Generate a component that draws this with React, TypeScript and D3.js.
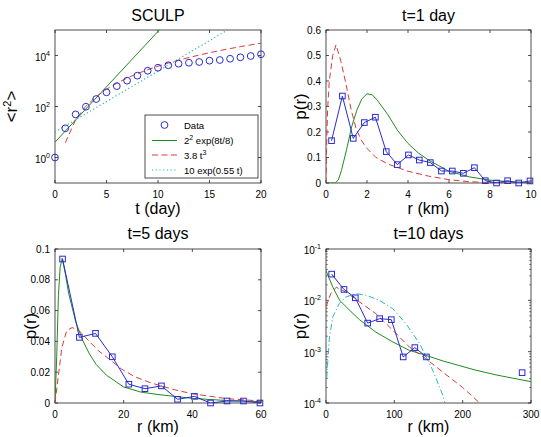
import React from "react";
import * as d3 from "d3";

const W = 541;
const H = 437;
const FONT = "'Liberation Sans', Arial, Helvetica, sans-serif";
const BLUE = "#2a2ad0";
const GREEN = "#1e8c1e";
const RED = "#dc3a3a";
const CYAN = "#2ab8b8";

// SCULP mean square separation
const sculpDays = [0, 1, 2, 3, 4, 5, 6, 7, 8, 9, 10, 11, 12, 13, 14, 15, 16, 17, 18, 19, 20];
const sculpR2 = [1, 14, 49, 98, 196, 360, 630, 1030, 1620, 2530, 3320, 4150, 4780, 5210, 5570, 6260, 6650, 7450, 8500, 9560, 11200];
const expFitDays = [0, 10.5];
const expFitR2 = [4, 145000];
const powFitDays = [1, 2, 3, 4, 5, 6, 7, 8, 9, 10, 11, 12, 13, 14, 15, 16, 17, 18, 19, 20];
const powFitR2 = [3.8, 30, 103, 243, 475, 821, 1300, 1950, 2770, 3800, 5060, 6570, 8350, 10400, 12800, 15600, 18700, 22200, 26100, 30400];
const exp2FitDays = [0, 17];
const exp2FitR2 = [10, 115000];

// t = 1 day
const day1R = [0.27, 0.8, 1.33, 1.87, 2.41, 2.94, 3.48, 4.02, 4.55, 5.09, 5.63, 6.16, 6.7, 7.24, 7.77, 8.32, 8.86, 9.4, 9.95];
const day1P = [0.166, 0.341, 0.175, 0.237, 0.258, 0.123, 0.072, 0.11, 0.09, 0.08, 0.047, 0.047, 0.038, 0.06, 0.009, 0, 0.009, 0, 0.008];
const day1GreenR = [0, 0.45, 0.6, 0.75, 1.0, 1.25, 1.5, 1.75, 2.0, 2.25, 2.5, 3.0, 3.5, 4.0, 4.5, 5.0, 5.5, 6.0, 7.0, 8.0, 9.0, 10.0];
const day1GreenP = [0, 0, 0.012, 0.048, 0.13, 0.22, 0.285, 0.33, 0.35, 0.346, 0.325, 0.27, 0.205, 0.155, 0.118, 0.09, 0.068, 0.046, 0.024, 0.011, 0.005, 0.002];
const day1RedR = [0, 0.04, 0.08, 0.16, 0.33, 0.49, 0.73, 0.98, 1.22, 1.46, 1.71, 1.95, 2.44, 3.0, 4.0, 5.0, 6.0, 7.0, 8.0, 10];
const day1RedP = [0, 0.18, 0.29, 0.4, 0.5, 0.542, 0.477, 0.386, 0.29, 0.215, 0.17, 0.14, 0.1, 0.075, 0.046, 0.027, 0.013, 0.005, 0.002, 0];

// t = 5 days
const day5R = [2.2, 7.1, 11.8, 16.7, 21.5, 26.2, 31.0, 35.7, 40.6, 45.3, 50.1, 54.9, 59.7];
const day5P = [0.0935, 0.0426, 0.0452, 0.03, 0.0122, 0.0093, 0.0111, 0.0024, 0.0043, 0, 0.0013, 0.0013, 0];
const day5GreenR = [0, 0.5, 1.0, 1.5, 2.1, 3, 4, 6, 8, 10, 12, 15, 20, 25, 30, 40, 50, 60];
const day5GreenP = [0, 0.03, 0.07, 0.088, 0.094, 0.084, 0.071, 0.053, 0.041, 0.032, 0.025, 0.018, 0.0104, 0.0071, 0.0055, 0.003, 0.0016, 0.0009];
const day5RedR = [0, 1, 2, 3.4, 5, 7, 10, 12.6, 15.5, 19.4, 23.3, 28, 35, 40, 50, 60];
const day5RedP = [0, 0.018, 0.036, 0.047, 0.049, 0.047, 0.04, 0.034, 0.029, 0.022, 0.017, 0.013, 0.0085, 0.006, 0.0028, 0.0013];

// t = 10 days
const day10R = [8.3, 26.3, 42.9, 61, 78.5, 95.6, 113, 130, 147, 287];
const day10P = [0.0324, 0.0163, 0.0112, 0.0036, 0.0044, 0.0042, 0.00079, 0.0012, 0.00079, 0.00039];
const day10GreenR = [0, 10, 20, 34, 49, 73, 98, 122, 146, 171, 218, 250, 300];
const day10GreenP = [0.038, 0.018, 0.01, 0.0065, 0.0042, 0.0024, 0.00154, 0.00106, 0.00085, 0.00066, 0.00044, 0.00035, 0.00026];
const day10RedR = [0, 7, 15, 29, 49, 73, 98, 122, 146, 171, 200, 225];
const day10RedP = [0.0075, 0.0135, 0.018, 0.0145, 0.0093, 0.0055, 0.0026, 0.00123, 0.00073, 0.0004, 0.0002, 0.0001];
const day10CyanR = [1, 5, 10, 19.5, 29, 44, 58.5, 78, 97.6, 117, 137, 156, 171, 174];
const day10CyanP = [0.0003, 0.0019, 0.0048, 0.0087, 0.0116, 0.0135, 0.0126, 0.01, 0.0069, 0.0035, 0.00144, 0.00044, 0.00014, 0.0001];

// tick labels
const sculpXTicks = [0, 5, 10, 15, 20];
const sculpYTicks = [1, 100, 10000];
const day1XTicks = [0, 2, 4, 6, 8, 10];
const day1YTicks = [0, 0.1, 0.2, 0.3, 0.4, 0.5, 0.6];
const day5XTicks = [0, 20, 40, 60];
const day5YTicks = [0, 0.02, 0.04, 0.06, 0.08, 0.1];
const day10XTicks = [0, 100, 200, 300];
const day10YTicks = [1e-4, 1e-3, 1e-2, 1e-1];

type Frame = { l: number; r: number; t: number; b: number };
type Scale = (v: number) => number;

const f1: Frame = { l: 55, r: 261, t: 30, b: 183 };
const f2: Frame = { l: 326, r: 531, t: 30, b: 183 };
const f3: Frame = { l: 55, r: 261, t: 249, b: 403 };
const f4: Frame = { l: 326, r: 531, t: 249, b: 403 };

const pow10 = (v: number) => (
  <>
    10<tspan dy={-5} fontSize={7}>{Math.round(Math.log10(v))}</tspan>
  </>
);

function Axes(props: {
  f: Frame; x: Scale; y: Scale; xTicks: number[]; yTicks: number[];
  yFmt: (v: number) => any; yMinor?: number[]; logY?: boolean; xLabelDy: number;
}) {
  const { f, x, y, xTicks, yTicks, yFmt, yMinor, logY, xLabelDy } = props;
  const tl = 3;
  return (
    <g>
      <rect x={f.l} y={f.t} width={f.r - f.l} height={f.b - f.t} fill="none" stroke="#222" strokeWidth={0.8} />
      {xTicks.map((v) => (
        <g key={"x" + v}>
          <line x1={x(v)} x2={x(v)} y1={f.b} y2={f.b - tl} stroke="#222" strokeWidth={0.8} />
          <line x1={x(v)} x2={x(v)} y1={f.t} y2={f.t + tl} stroke="#222" strokeWidth={0.8} />
          <text x={x(v)} y={f.b + xLabelDy} textAnchor="middle" fontSize={10}>{v}</text>
        </g>
      ))}
      {yTicks.map((v) => (
        <g key={"y" + v}>
          <line x1={f.l} x2={f.l + tl} y1={y(v)} y2={y(v)} stroke="#222" strokeWidth={0.8} />
          <line x1={f.r} x2={f.r - tl} y1={y(v)} y2={y(v)} stroke="#222" strokeWidth={0.8} />
          <text x={f.l - 5} y={y(v) + (logY ? 5 : 3.5)} textAnchor="end" fontSize={10}>{yFmt(v)}</text>
        </g>
      ))}
      {(yMinor || []).map((v) => (
        <g key={"m" + v}>
          <line x1={f.l} x2={f.l + 1.8} y1={y(v)} y2={y(v)} stroke="#222" strokeWidth={0.6} />
          <line x1={f.r} x2={f.r - 1.8} y1={y(v)} y2={y(v)} stroke="#222" strokeWidth={0.6} />
        </g>
      ))}
    </g>
  );
}

function path(xs: number[], ys: number[], x: Scale, y: Scale) {
  const pts: [number, number][] = xs.map((v, i) => [x(v), y(ys[i])]);
  return d3.line()(pts) || "";
}

export default function App() {
  const x1 = d3.scaleLinear().domain([0, 20]).range([f1.l, f1.r]);
  const y1 = d3.scaleLog().domain([0.1, 1e5]).range([f1.b, f1.t]);
  const x2 = d3.scaleLinear().domain([0, 10]).range([f2.l, f2.r]);
  const y2 = d3.scaleLinear().domain([0, 0.6]).range([f2.b, f2.t]);
  const x3 = d3.scaleLinear().domain([0, 60]).range([f3.l, f3.r]);
  const y3 = d3.scaleLinear().domain([0, 0.1]).range([f3.b, f3.t]);
  const x4 = d3.scaleLinear().domain([0, 300]).range([f4.l, f4.r]);
  const y4 = d3.scaleLog().domain([1e-4, 1e-1]).range([f4.b, f4.t]);

  const minor4: number[] = [];
  [1e-4, 1e-3, 1e-2].forEach((d) => {
    for (let k = 2; k <= 9; k++) minor4.push(d * k);
  });

  const sq = 5.6;
  const squares = (xs: number[], ys: number[], x: Scale, y: Scale) =>
    xs.map((v, i) => (
      <rect key={i} x={x(v) - sq / 2} y={y(ys[i]) - sq / 2} width={sq} height={sq} fill="none" stroke={BLUE} strokeWidth={1} />
    ));

  const clip = (id: string, f: Frame) => (
    <clipPath id={id}>
      <rect x={f.l} y={f.t} width={f.r - f.l} height={f.b - f.t} />
    </clipPath>
  );

  const title = (f: Frame, yy: number, s: string) => (
    <text x={(f.l + f.r) / 2} y={yy} textAnchor="middle" fontSize={16}>{s}</text>
  );
  const xlab = (f: Frame, yy: number, s: string) => (
    <text x={(f.l + f.r) / 2} y={yy} textAnchor="middle" fontSize={16}>{s}</text>
  );
  // rotated label; xx is the baseline position
  const ylab = (xx: number, f: Frame, content: any) => (
    <text transform={`translate(${xx},${(f.t + f.b) / 2}) rotate(-90)`} textAnchor="middle" fontSize={17}>{content}</text>
  );

  const fmtLin = (v: number) => String(+v.toFixed(3));

  return (
    <svg width={W} height={H} style={{ position: "absolute", left: 0, top: 0, background: "#fff" }} fontFamily={FONT}>
      <defs>
        {clip("c1", f1)}
        {clip("c2", f2)}
        {clip("c3", f3)}
        {clip("c4", f4)}
      </defs>
      <rect width={W} height={H} fill="#fff" />

      {/* panel 1: SCULP */}
      <Axes f={f1} x={x1} y={y1} xTicks={sculpXTicks} yTicks={sculpYTicks} yFmt={pow10} logY xLabelDy={15} />
      <g clipPath="url(#c1)" fill="none">
        <path d={path(expFitDays, expFitR2, x1, y1)} stroke={GREEN} strokeWidth={1} />
        <path d={path(powFitDays, powFitR2, x1, y1)} stroke={RED} strokeWidth={1} strokeDasharray="6,3.5" />
        <path d={path(exp2FitDays, exp2FitR2, x1, y1)} stroke={CYAN} strokeWidth={1.2} strokeDasharray="1.2,2.5" />
      </g>
      {sculpDays.map((t, i) => (
        <circle key={i} cx={x1(t)} cy={y1(sculpR2[i])} r={3.4} fill="none" stroke={BLUE} strokeWidth={1} />
      ))}
      {/* legend */}
      <g>
        <rect x={145} y={115} width={113} height={63} fill="#fff" stroke="#222" strokeWidth={0.8} />
        <circle cx={164.5} cy={125} r={3.4} fill="none" stroke={BLUE} strokeWidth={1} />
        <line x1={152} x2={177} y1={140.5} y2={140.5} stroke={GREEN} strokeWidth={1} />
        <line x1={152} x2={177} y1={155} y2={155} stroke={RED} strokeWidth={1} strokeDasharray="6,3.5" />
        <line x1={152} x2={177} y1={170} y2={170} stroke={CYAN} strokeWidth={1.2} strokeDasharray="1.2,2.5" />
        <text x={184} y={128.5} fontSize={9.5}>Data</text>
        <text x={184} y={144} fontSize={9.5}>2<tspan dy={-4} fontSize={7}>2</tspan><tspan dy={4}> exp(8t/8)</tspan></text>
        <text x={184} y={158.5} fontSize={9.5}>3.8 t<tspan dy={-4} fontSize={7}>3</tspan></text>
        <text x={184} y={173.5} fontSize={9.5}>10 exp(0.55 t)</text>
      </g>
      {title(f1, 21, "SCULP")}
      {xlab(f1, 214, "t (day)")}
      {ylab(17, f1, <>&lt;r<tspan dy={-6} fontSize={11}>2</tspan><tspan dy={6}>&gt;</tspan></>)}

      {/* panel 2: t=1 day */}
      <Axes f={f2} x={x2} y={y2} xTicks={day1XTicks} yTicks={day1YTicks} yFmt={fmtLin} xLabelDy={15} />
      <g clipPath="url(#c2)" fill="none">
        <path d={path(day1GreenR, day1GreenP, x2, y2)} stroke={GREEN} strokeWidth={1} />
        <path d={path(day1RedR, day1RedP, x2, y2)} stroke={RED} strokeWidth={1} strokeDasharray="6,3.5" />
        <path d={path(day1R, day1P, x2, y2)} stroke={BLUE} strokeWidth={1} />
      </g>
      {squares(day1R, day1P, x2, y2)}
      {title(f2, 21, "t=1 day")}
      {xlab(f2, 214, "r (km)")}
      {ylab(306, f2, "p(r)")}

      {/* panel 3: t=5 days */}
      <Axes f={f3} x={x3} y={y3} xTicks={day5XTicks} yTicks={day5YTicks} yFmt={fmtLin} xLabelDy={14.5} />
      <g clipPath="url(#c3)" fill="none">
        <path d={path(day5GreenR, day5GreenP, x3, y3)} stroke={GREEN} strokeWidth={1} />
        <path d={path(day5RedR, day5RedP, x3, y3)} stroke={RED} strokeWidth={1} strokeDasharray="6,3.5" />
        <path d={path(day5R, day5P, x3, y3)} stroke={BLUE} strokeWidth={1} />
      </g>
      {squares(day5R, day5P, x3, y3)}
      {title(f3, 239, "t=5 days")}
      {xlab(f3, 432, "r (km)")}
      {ylab(36, f3, "p(r)")}

      {/* panel 4: t=10 days */}
      <Axes f={f4} x={x4} y={y4} xTicks={day10XTicks} yTicks={day10YTicks} yFmt={pow10} yMinor={minor4} logY xLabelDy={14.5} />
      <g clipPath="url(#c4)" fill="none">
        <path d={path(day10GreenR, day10GreenP, x4, y4)} stroke={GREEN} strokeWidth={1} />
        <path d={path(day10RedR, day10RedP, x4, y4)} stroke={RED} strokeWidth={1} strokeDasharray="6,3.5" />
        <path d={path(day10CyanR, day10CyanP, x4, y4)} stroke={CYAN} strokeWidth={1} strokeDasharray="6,2.5,1.2,2.5" />
        <path d={path(day10R.slice(0, 9), day10P.slice(0, 9), x4, y4)} stroke={BLUE} strokeWidth={1} />
      </g>
      {squares(day10R, day10P, x4, y4)}
      {title(f4, 239, "t=10 days")}
      {xlab(f4, 432, "r (km)")}
      {ylab(306, f4, "p(r)")}
    </svg>
  );
}
